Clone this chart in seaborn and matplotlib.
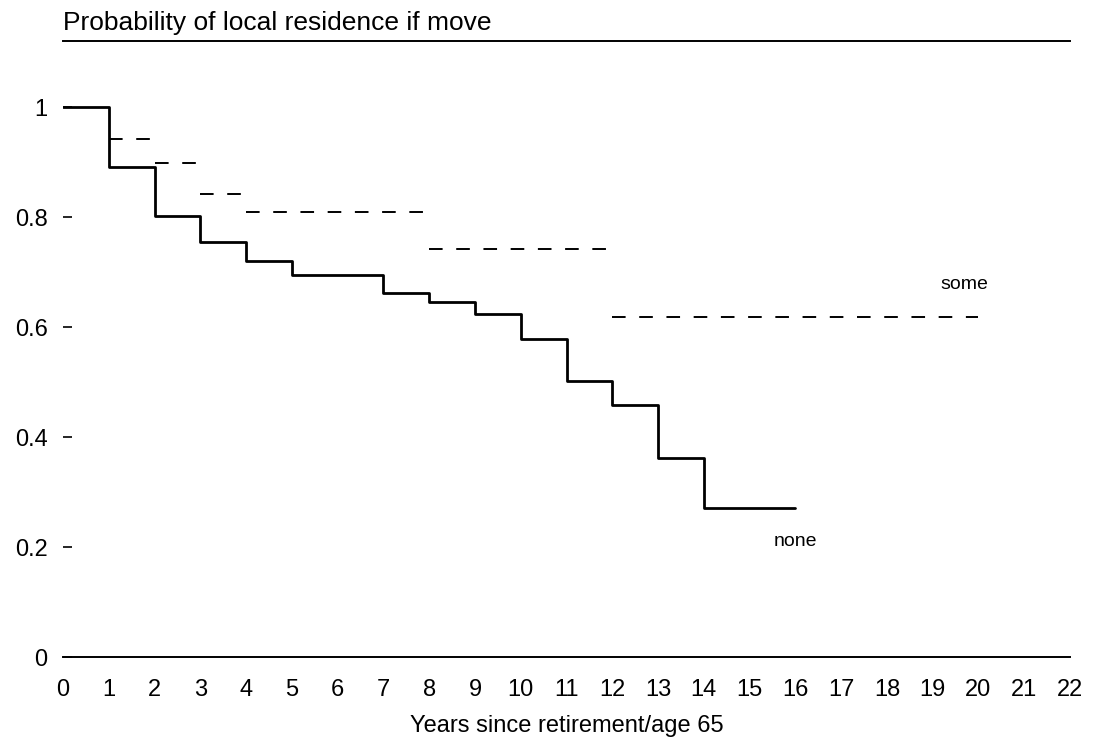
import matplotlib
matplotlib.use('Agg')
import matplotlib.pyplot as plt
import seaborn as sns
import pandas as pd

sns.set_theme(style='white')
plt.rcParams['font.family'] = ['Liberation Sans', 'DejaVu Sans']

# ---- data ----
none_times = [0, 1, 2, 3, 4, 5, 7, 8, 9, 10, 11, 12, 13, 14, 16]
none_surv = [1.0, 0.891, 0.801, 0.754, 0.720, 0.695, 0.662, 0.645, 0.623,
             0.579, 0.501, 0.458, 0.361, 0.271, 0.271]
some_start = [1, 2, 3, 4, 8, 12]
some_end = [2, 3, 4, 8, 12, 20]
some_surv = [0.942, 0.899, 0.841, 0.809, 0.741, 0.619]
x_ticks = list(range(0, 23))
y_ticks = [0, 0.2, 0.4, 0.6, 0.8, 1.0]
y_tick_labels = ['0', '0.2', '0.4', '0.6', '0.8', '1']

W, H = 1097, 741
fig = plt.figure(figsize=(W / 100, H / 100), dpi=100)
ax = fig.add_axes([63 / W, (H - 657) / H, (1070 - 63) / W, (657 - 41) / H])

df = pd.DataFrame({'years': none_times, 'prob': none_surv})
sns.lineplot(data=df, x='years', y='prob', drawstyle='steps-post',
             color='black', linewidth=2.0, errorbar=None, ax=ax)
ax.hlines(some_surv, some_start, some_end, colors='black',
          linestyles=(0, (7, 7)), linewidth=1.4)

ax.set_xlim(0, 22)
ax.set_ylim(0, 1.12)
ax.set_xticks(x_ticks)
ax.set_xticklabels([str(t) for t in x_ticks], fontsize=17)
ax.set_yticks(y_ticks)
ax.set_yticklabels(y_tick_labels, fontsize=17)
ax.tick_params(axis='x', length=0, pad=16, colors='black')
ax.tick_params(axis='y', direction='in', length=6.5, width=1.2, pad=11,
               colors='black', left=True)

for side in ['left', 'right']:
    ax.spines[side].set_visible(False)
for side in ['top', 'bottom']:
    ax.spines[side].set_visible(True)
    ax.spines[side].set_color('black')
    ax.spines[side].set_linewidth(1.4)

ax.set_xlabel('Years since retirement/age 65', fontsize=17, labelpad=10,
              color='black')
ax.set_ylabel('')
ax.set_title('Probability of local residence if move', loc='left',
             fontsize=19, pad=8, color='black')

ax.text(19.7, 0.677, 'some', ha='center', va='center', fontsize=14,
        color='black')
ax.text(16.0, 0.21, 'none', ha='center', va='center', fontsize=14,
        color='black')

fig.savefig('out.png', dpi=100)
